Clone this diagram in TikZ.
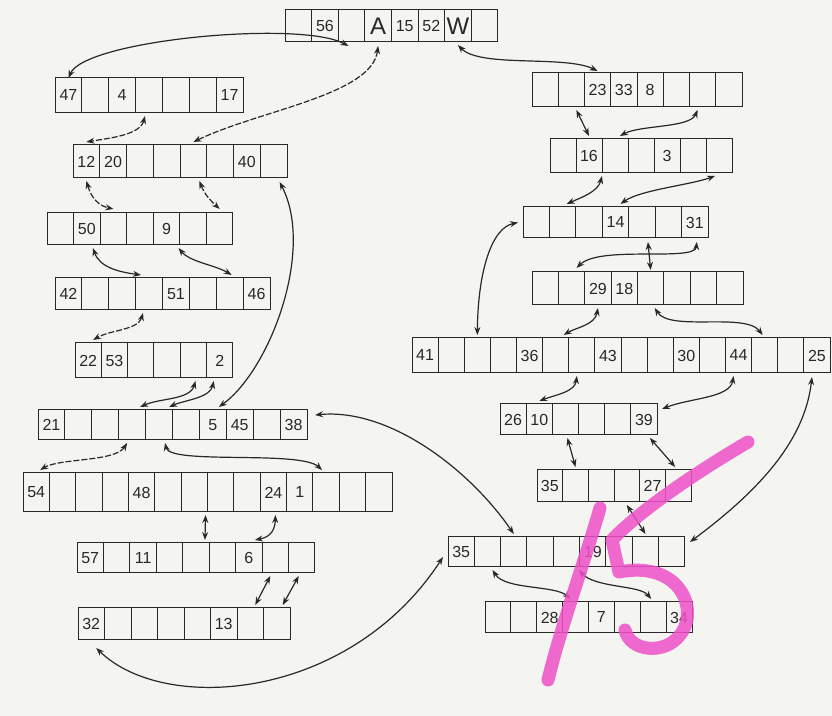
\documentclass[tikz,border=0pt]{standalone}
\usepackage{fontspec}
\setmainfont{Liberation Sans}
\usetikzlibrary{arrows.meta,calc}
\definecolor{paper}{RGB}{244,244,240}
\definecolor{ink}{RGB}{40,40,40}
\definecolor{marker}{RGB}{238,80,200}
\newcommand\biglet{\fontsize{12}{12}\selectfont}
\newcommand\drawarr[6]{%
  \foreach \t [count=\i] in {#6} {%
    \node[cell, minimum width={#4*0.5pt}, minimum height={#5*0.5pt}] (#1-\i) at ({#2+(\i-0.5)*#4},{#3+#5/2}) {\t};
  }%
}
\begin{document}
\begin{tikzpicture}[x=0.5pt,y=-0.5pt,
  cell/.style={draw=ink, line width=0.5pt, inner sep=0pt, outer sep=0pt,
    font=\fontsize{8}{8}\selectfont, text=ink},
  conn/.style={{Stealth[length=4pt,width=3pt]}-{Stealth[length=4pt,width=3pt]}, draw=ink, line width=0.6pt},
  faint/.style={conn, dash pattern=on 3pt off 1pt},
  markerstroke/.style={draw=marker, line width=6.5pt, line cap=round, line join=round, opacity=0.85}]
\path[fill=paper] (0,0) rectangle (832,716);
% left arrays
\drawarr{T}{285}{10}{26.6}{32}{{},56,{},\biglet A,15,52,\biglet W,{}}
\drawarr{L1}{55}{78}{26.86}{35}{47,{},4,{},{},{},17}
\drawarr{L2}{73}{145}{26.75}{33}{12,20,{},{},{},{},40,{}}
\drawarr{L3}{47}{213}{26.57}{32}{{},50,{},{},9,{},{}}
\drawarr{L4}{55}{278}{26.875}{32}{42,{},{},{},51,{},{},46}
\drawarr{L5}{75}{343}{26.33}{35}{22,53,{},{},{},2}
\drawarr{L6}{38}{410}{26.9}{30}{21,{},{},{},{},{},5,45,{},38}
\drawarr{L7}{23}{473}{26.36}{39}{54,{},{},{},48,{},{},{},{},24,1,{},{},{}}
\drawarr{L8}{77}{543}{26.44}{30}{57,{},11,{},{},{},6,{},{}}
\drawarr{L9}{78}{608}{26.5}{32}{32,{},{},{},{},13,{},{}}
% right arrays
\drawarr{R1}{532}{73}{26.25}{34}{{},{},23,33,8,{},{},{}}
\drawarr{R2}{550}{139}{26}{34}{{},16,{},{},3,{},{}}
\drawarr{R3}{523}{207}{26.43}{31}{{},{},{},14,{},{},31}
\drawarr{R4}{532}{272}{26.375}{33}{{},{},29,18,{},{},{},{}}
\drawarr{R5}{412}{338}{26.125}{35}{41,{},{},{},36,{},{},43,{},{},30,{},44,{},{},25}
\drawarr{R6}{500}{404}{26.17}{31}{26,10,{},{},{},39}
\drawarr{R7}{537}{470}{25.67}{32}{35,{},{},{},27,{}}
\drawarr{R8}{448}{537}{26.33}{30}{35,{},{},{},{},19,{},{},{}}
\drawarr{R9}{485}{602}{25.875}{31}{{},{},28,{},7,{},{},34}
% connectors, left side
\draw[conn] (L1-1.north) .. controls (85,40) and (300,20) .. ($(T-3.south)+(-3,4)$);
\draw[faint] ($(T-4.south)+(0,4)$) .. controls (372,95) and (260,110) .. ($(L2-5.north)+(0,-3)$);
\draw[conn] ($(T-7.south)+(0,3)$) .. controls (480,68) and (565,55) .. ($(R1-3.north)+(0,-2)$);
\draw[faint] ($(L1-4.south)+(-4,3)$) .. controls (140,135) and (110,138) .. ($(L2-1.north)+(0,-3)$);
\draw[faint] ($(L2-1.south)+(0,3)$) .. controls (92,200) and (100,206) .. ($(L3-3.north)+(0,-4)$);
\draw[faint] ($(L2-5.south)+(6,3)$) .. controls (205,195) and (210,200) .. ($(L3-7.north)+(0,-4)$);
\draw[conn] ($(L2-8.south)+(6,4)$) .. controls (315,250) and (270,370) .. ($(L6-7.north)+(6,-3)$);
\draw[conn] ($(L3-2.south)+(6,3)$) .. controls (100,268) and (120,272) .. ($(L4-4.north)+(-8,-3)$);
\draw[conn] ($(L3-5.south)+(12,3)$) .. controls (190,262) and (215,265) .. ($(L4-7.north)+(2,-3)$);
\draw[faint] ($(L4-4.south)+(-6,3)$) .. controls (138,330) and (110,330) .. ($(L5-1.north)+(5,-3)$);
\draw[conn] ($(L5-5.south)+(2,3)$) .. controls (190,400) and (160,398) .. ($(L6-4.north)+(8,-3)$);
\draw[conn] ($(L5-6.south)+(-6,3)$) .. controls (210,398) and (185,400) .. ($(L6-5.north)+(10,-3)$);
\draw[faint] ($(L6-4.south)+(-5,3)$) .. controls (115,462) and (60,458) .. ($(L7-1.north)+(4,-3)$);
\draw[conn] ($(L6-5.south)+(6,3)$) .. controls (170,465) and (300,450) .. ($(L7-12.north)+(-4,-3)$);
\draw[conn] ($(L6-10.north east)+(8,5)$) .. controls (390,408) and (470,470) .. ($(R8-3.north)+(0,-3)$);
\draw[conn] ($(L7-7.south east)+(-2,3)$) -- ($(L8-5.north)+(9,-3)$);
\draw[conn] ($(L7-10.south)+(2,3)$) .. controls (275,535) and (265,538) .. ($(L8-7.north)+(6,-3)$);
\draw[conn] ($(L8-8.south)+(-5,3)$) -- ($(L9-7.north)+(5,-3)$);
\draw[conn] ($(L8-9.south)+(-3,3)$) -- ($(L9-8.north)+(6,-3)$);
\draw[conn] ($(L9-1.south)+(5,8)$) .. controls (165,715) and (350,700) .. ($(R8-1.west)+(-5,5)$);
% connectors, right side
\draw[conn] ($(R1-2.south)+(5,3)$) -- ($(R2-2.north)+(0,-3)$);
\draw[conn] ($(R1-7.south)+(-5,3)$) .. controls (690,128) and (640,125) .. ($(R2-3.north)+(5,-3)$);
\draw[conn] ($(R2-2.south east)+(0,3)$) .. controls (598,192) and (580,198) .. ($(R3-2.north)+(4,-3)$);
\draw[conn] ($(R2-7.south)+(-4,3)$) .. controls (690,185) and (640,190) .. ($(R3-4.north)+(5,-3)$);
\draw[conn] ($(R3-7.south)+(2,4)$) .. controls (695,262) and (600,245) .. ($(R4-2.north)+(5,-4)$);
\draw[conn] ($(R3-5.south)+(6,4)$) -- ($(R4-5.north)+(0,-2)$);
\draw[conn] ($(R3-1.west)+(-5,0)$) .. controls (492,228) and (478,270) .. ($(R5-3.north)+(0,-3)$);
\draw[conn] ($(R4-3.south)+(0,3)$) .. controls (595,325) and (575,328) .. ($(R5-6.north)+(8,-3)$);
\draw[conn] ($(R4-5.south)+(4,3)$) .. controls (670,332) and (745,312) .. ($(R5-14.north)+(-2,-3)$);
\draw[conn] ($(R5-7.south)+(-5,3)$) .. controls (575,392) and (555,395) .. ($(R6-2.north)+(0,-3)$);
\draw[conn] ($(R5-13.south)+(-5,3)$) .. controls (730,398) and (690,398) .. ($(R6-6.north east)+(5,5)$);
\draw[conn] ($(R5-16.south)+(-5,4)$) .. controls (805,440) and (760,490) .. ($(R8-9.east)+(5,-10)$);
\draw[conn] ($(R6-3.south)+(2,3)$) -- ($(R7-2.north)+(0,-3)$);
\draw[conn] ($(R6-6.south)+(6,3)$) -- ($(R7-6.north)+(-3,-3)$);
\draw[conn] ($(R7-4.south)+(0,3)$) -- ($(R8-8.north)+(0,-3)$);
\draw[conn] ($(R8-2.south)+(5,3)$) .. controls (505,590) and (555,585) .. ($(R9-4.north)+(-5,-3)$);
\draw[conn] ($(R8-6.south)+(-14,3)$) .. controls (595,588) and (640,585) .. ($(R9-7.north)+(-2,-3)$);
% pink marker "15"
\draw[markerstroke] (600,508) .. controls (585,560) and (560,630) .. (548,680);
\draw[markerstroke] (748,442) .. controls (700,470) and (640,510) .. (612,540) -- (619,572)
  .. controls (680,560) and (700,610) .. (680,635) .. controls (665,655) and (630,652) .. (625,630);
\end{tikzpicture}
\end{document}
